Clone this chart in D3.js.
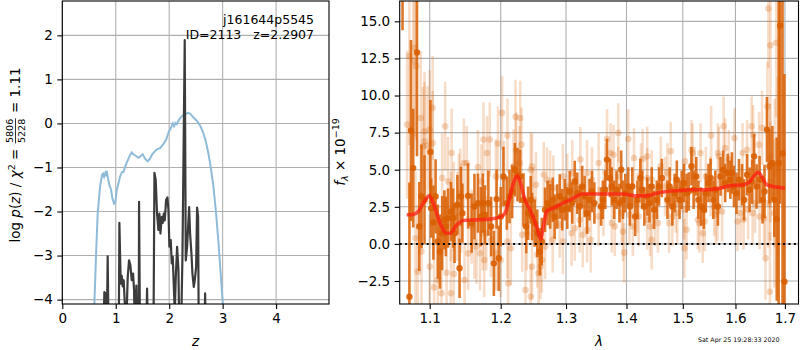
<!DOCTYPE html>
<html>
<head>
<meta charset="utf-8">
<script src="https://cdn.jsdelivr.net/npm/d3@7"></script>
<style>
  body { margin: 0; background: #fff; }
  text { font-family: "DejaVu Sans", sans-serif; fill: #000; }
</style>
</head>
<body>
<svg width="800" height="350"></svg>
<script>
// ---------- p(z) panel ----------
var zTicks = [0, 1, 2, 3, 4];
var logpTicks = [-4, -3, -2, -1, 0, 1, 2];

// chi2-based curve (light blue) [z, log p]
var chi2Curve = [[0.58,-5],[0.60,-4.1],[0.631,-3.0],[0.662,-2.04],[0.706,-1.44],[0.743,-1.17],[0.762,-1.14],[0.781,-1.21],[0.80,-1.14],[0.812,-1.2],[0.831,-1.08],[0.856,-1.25],[0.881,-1.40],[0.912,-1.50],[0.937,-1.70],[0.968,-1.82],[0.993,-1.78],[1.018,-1.52],[1.049,-1.37],[1.08,-1.21],[1.118,-1.10],[1.143,-1.10],[1.18,-0.97],[1.224,-0.84],[1.268,-0.72],[1.299,-0.66],[1.33,-0.70],[1.38,-0.74],[1.424,-0.78],[1.468,-0.74],[1.505,-0.70],[1.549,-0.80],[1.593,-0.86],[1.630,-0.82],[1.674,-0.72],[1.717,-0.65],[1.767,-0.59],[1.829,-0.56],[1.892,-0.47],[1.942,-0.37],[1.992,-0.19],[2.029,-0.11],[2.067,0.0],[2.092,-0.06],[2.117,0.01],[2.142,-0.02],[2.18,0.075],[2.223,0.15],[2.266,0.19],[2.316,0.22],[2.36,0.24],[2.404,0.21],[2.441,0.15],[2.485,0.10],[2.529,0.04],[2.579,-0.05],[2.63,-0.19],[2.68,-0.38],[2.728,-0.65],[2.778,-0.99],[2.828,-1.44],[2.878,-2.05],[2.928,-2.80],[2.972,-3.56],[3.003,-4.1],[3.02,-5]];

// fitted p(z) (dark) [z, log p]
var pzCurve = [[0.765,-5],[0.787,-3.83],[0.806,-4.05],[0.818,-3.85],[0.83,-5],[0.849,-3.02],[0.868,-5],[1.056,-5],[1.068,-2.26],[1.093,-3.64],[1.112,-3.46],[1.13,-3.7],[1.149,-3.56],[1.168,-4.05],[1.187,-5],[1.224,-3.49],[1.249,-3.11],[1.274,-3.22],[1.299,-3.56],[1.324,-3.41],[1.343,-3.79],[1.361,-5],[1.386,-3.68],[1.405,-5],[1.43,-5],[1.436,-1.78],[1.455,-5],[1.567,-5],[1.586,-3.75],[1.605,-5],[1.705,-5],[1.724,-1.12],[1.748,-1.29],[1.773,-2.05],[1.798,-2.42],[1.817,-2.05],[1.836,-2.5],[1.861,-2.12],[1.879,-2.26],[1.898,-2.05],[1.917,-2.2],[1.942,-1.74],[1.967,-1.68],[1.986,-1.97],[2.004,-2.8],[2.029,-2.65],[2.048,-3.18],[2.067,-3.03],[2.085,-3.64],[2.104,-4.3],[2.123,-3.5],[2.148,-2.8],[2.173,-3.33],[2.192,-5],[2.217,-5],[2.248,-3.03],[2.2907,1.89],[2.31,-3.11],[2.335,-2.8],[2.354,-2.35],[2.373,-1.9],[2.391,-2.5],[2.416,-2.95],[2.435,-3.41],[2.46,-3.71],[2.479,-3.56],[2.504,-3.26],[2.522,-1.91],[2.541,-2.12],[2.554,-5],[2.66,-5],[2.672,-3.86],[2.685,-5]];

// ---------- spectrum panel ----------
var waveTicks = [1.1, 1.2, 1.3, 1.4, 1.5, 1.6, 1.7];
var fluxTicks = [-2.5, 0, 2.5, 5, 7.5, 10, 12.5, 15];

// individual spectrum pixels [wave, flux, err]
var specPoints = [
 [1.070,8.04,5],[1.073,12.66,6],[1.078,12.32,6],[1.080,13.22,6],[1.082,11.98,5],[1.088,8.49,4.5],[1.091,6.57,4],[1.093,6.91,4],[1.093,7.59,4],[1.097,6.62,4],[1.100,7.7,4],[1.104,9.17,3.5],[1.084,-1.87,4.5],[1.081,0.38,4.5],[1.089,-0.52,4],[1.100,-1.53,3.5],[1.104,6.8,3.5],[1.121,7.93,3],[1.117,4.44,3],[1.125,4.21,3],[1.130,6.13,3],[1.129,1.84,3],[1.133,2.52,3],[1.140,3.09,3],[1.142,3.42,3],[1.147,5.45,3],[1.116,-3.33,3],[1.129,-3.33,3],[1.123,-1.94,3],[1.133,-2.03,3],[1.106,-2.93,3.5],[1.111,-2.43,3.5],[1.143,2.41,3],[1.138,1.84,3],
 [1.151,5.45,2.5],[1.148,-2.43,2.5],[1.167,5.18,2.5],[1.172,4.21,2.5],[1.175,7.03,2.5],[1.180,6.13,2.5],[1.184,7.03,2.5],[1.196,6.76,2.5],[1.202,8.83,2.5],[1.210,7.3,2.5],[1.222,8.56,2.5],[1.229,8.49,2.5],[1.231,6.69,2.5],[1.223,6.35,2.5],[1.205,4.44,2.5],[1.193,4.55,2.5],[1.165,-0.18,2.5],[1.170,-0.63,2.5],[1.174,0.72,2.5],[1.179,0.72,2.5],[1.162,0.16,2.5],[1.158,1.17,2.5],[1.186,0.27,2.5],[1.193,-0.63,2.5],[1.200,-1.08,2.5],[1.210,0.16,2.5],[1.215,-0.29,2.5],[1.211,-2.66,2.5],[1.237,-3.11,2.5],[1.232,0.61,2.5],[1.239,0.72,2.5],[1.245,5.0,2.5],[1.219,5.23,2.5],[1.228,5.45,2.5],[1.176,-1.08,2.5],[1.153,-0.63,2.5],
 [1.247,5.23,2.2],[1.253,3.99,2.2],[1.265,4.66,2.2],[1.270,4.32,2.2],[1.275,4.1,2.2],[1.280,3.76,2.2],[1.295,4.55,2.2],[1.302,3.87,2.2],[1.310,4.78,2.2],[1.323,5.68,2.2],[1.334,4.78,2.2],[1.342,4.32,2.2],[1.279,0.27,2.2],[1.295,0.16,2.2],[1.290,1.28,2.2],[1.309,0.72,2.2],[1.314,1.06,2.2],[1.327,0.61,2.2],[1.334,0.95,2.2],[1.340,0.27,2.2],[1.262,-1.08,2.2],[1.257,-1.98,2.2],[1.260,-1.53,2.2],[1.255,-0.74,2.2],[1.247,-1.53,2.2],[1.245,-3.56,2.2],[1.267,-0.18,2.2],[1.249,2.97,2.2],[1.275,2.07,2.2],[1.322,1.62,2.2],
 [1.367,7.07,2],[1.386,7.48,2],[1.403,7.07,2],[1.373,6.13,2],[1.378,6.01,2],[1.413,5.79,2],[1.428,5.72,2],[1.436,5.9,2],[1.353,5.45,2],[1.364,4.78,2],[1.386,4.55,2],[1.425,4.78,2],[1.436,4.44,2],[1.444,4.32,2],[1.460,5.23,2],[1.353,1.84,2],[1.361,2.52,2],[1.375,1.4,2],[1.380,1.17,2],[1.394,0.83,2],[1.396,-0.59,2],[1.405,1.96,2],[1.411,1.17,2],[1.421,1.84,2],[1.436,1.62,2],[1.441,1.17,2],[1.444,0.27,2],[1.450,1.84,2],[1.455,1.4,2],[1.419,2.75,2],[1.392,2.07,2],
 [1.478,6.24,2],[1.504,5.56,2],[1.516,6.35,2],[1.518,6.13,2],[1.533,6.13,2],[1.553,7.3,2],[1.566,6.13,2],[1.568,5.9,2],[1.577,7.93,2],[1.580,6.46,2],[1.587,5.68,2],[1.472,4.78,2],[1.468,3.87,2],[1.487,2.75,2],[1.475,1.4,2],[1.481,1.84,2],[1.490,2.07,2],[1.502,2.3,2],[1.507,0.95,2],[1.503,-0.29,2],[1.528,1.62,2],[1.531,1.4,2],[1.537,0.72,2],[1.541,1.51,2],[1.559,2.52,2],[1.562,1.96,2],[1.565,2.18,2],[1.574,2.18,2],[1.543,4.55,2],[1.552,3.87,2],[1.522,4.55,2],
 [1.598,7.14,2],[1.614,6.13,2],[1.623,6.35,2],[1.632,7.93,2],[1.635,7.36,2],[1.647,6.69,2.2],[1.653,7.82,2.5],[1.664,9.28,3],[1.670,4.21,4],[1.679,4.78,5],[1.670,5.45,4],[1.685,5.23,6],[1.604,1.51,2],[1.610,2.07,2],[1.616,1.62,2],[1.625,2.3,2],[1.634,2.07,2],[1.639,2.75,2],[1.648,1.84,2.2],[1.657,1.74,2.5],[1.666,2.75,3],[1.669,5.9,3.5],[1.660,-0.97,2.8],[1.669,-3.22,4],[1.666,15.86,4],[1.670,13.38,4],[1.682,13.56,5],[1.678,2.07,5]
];

// binned spectrum [wave, flux, err]
var binPoints = [
 [1.064,20.0,5.6],[1.073,-3.56,7.7],[1.075,7.64,6.1],[1.078,5.11,4.0],[1.083,12.9,7.0],[1.086,1.17,3.0],[1.089,3.2,3.5],[1.093,2.97,3.0],[1.101,6.2,3.5],[1.102,2.41,2.0],[1.105,1.44,2.5],[1.108,3.2,2.5],[1.111,0.16,2.5],[1.114,-0.52,2.5],[1.117,0.72,2.5],[1.120,1.62,2.0],[1.122,1.17,2.0],[1.125,1.74,2.0],[1.129,2.18,2.0],[1.132,1.74,2.0],[1.134,0.72,2.0],[1.138,2.64,2.0],[1.141,-1.64,2.0],[1.143,3.2,2.0],[1.145,2.07,2.0],
 [1.153,3.24,2.2],[1.158,1.40,2.0],[1.162,2.52,2.2],[1.167,2.75,2.0],[1.171,1.84,2.0],[1.174,2.75,2.0],[1.177,1.96,2.0],[1.182,2.75,2.2],[1.186,1.17,2.0],[1.190,-1.31,2.2],[1.194,3.02,2.0],[1.197,-0.97,2.2],[1.200,1.84,2.0],[1.204,4.55,2.0],[1.209,2.75,1.8],[1.213,3.2,1.8],[1.217,3.53,1.8],[1.221,5.0,1.8],[1.225,4.66,1.8],[1.229,4.55,1.8],[1.234,2.97,1.8],[1.238,1.17,1.8],[1.241,2.07,1.8],[1.245,2.97,1.6],
 [1.247,1.84,1.6],[1.251,1.4,1.6],[1.255,0.72,1.6],[1.259,-0.52,1.6],[1.262,0.16,1.6],[1.267,2.3,1.5],[1.271,2.75,1.5],[1.275,2.52,1.5],[1.279,2.97,1.5],[1.282,1.84,1.5],[1.286,2.52,1.5],[1.290,3.2,1.5],[1.294,2.3,1.4],[1.298,2.97,1.4],[1.302,2.41,1.4],[1.306,3.53,1.4],[1.310,2.75,1.4],[1.314,4.21,1.4],[1.318,3.42,1.4],[1.322,2.52,1.4],[1.326,3.87,1.4],[1.330,3.2,1.4],[1.334,2.07,1.4],[1.338,2.97,1.4],[1.342,3.53,1.4],[1.346,2.75,1.4],
 [1.357,2.52,1.3],[1.360,2.97,1.3],[1.364,3.65,1.3],[1.367,5.68,1.4],[1.372,4.44,1.3],[1.375,3.87,1.3],[1.379,2.97,1.3],[1.383,3.65,1.3],[1.388,2.75,1.3],[1.391,5.0,1.3],[1.394,2.97,1.3],[1.398,3.42,1.3],[1.403,3.87,1.3],[1.406,2.52,1.3],[1.410,3.87,1.3],[1.415,1.84,1.3],[1.419,2.97,1.3],[1.424,4.44,1.3],[1.427,3.65,1.3],[1.431,2.52,1.3],[1.436,3.2,1.3],[1.440,2.75,1.3],[1.444,3.87,1.3],[1.448,2.3,1.3],[1.453,2.97,1.3],[1.457,3.87,1.3],[1.462,4.44,1.3],
 [1.472,2.97,1.3],[1.476,3.87,1.3],[1.481,2.52,1.3],[1.485,3.42,1.3],[1.489,4.32,1.3],[1.494,2.97,1.3],[1.498,3.65,1.3],[1.502,4.1,1.3],[1.507,3.42,1.3],[1.511,3.53,1.3],[1.516,5.23,1.3],[1.520,3.65,1.3],[1.525,4.55,1.3],[1.529,2.97,1.3],[1.534,2.52,1.3],[1.539,2.3,1.3],[1.543,3.42,1.3],[1.548,4.1,1.3],[1.552,4.44,1.3],[1.557,2.97,1.3],[1.561,3.65,1.3],[1.566,2.52,1.3],[1.571,4.55,1.3],[1.576,5.0,1.3],[1.580,4.1,1.3],[1.585,4.78,1.3],[1.590,4.32,1.3],
 [1.593,4.78,1.4],[1.597,3.87,1.4],[1.602,3.42,1.4],[1.607,4.32,1.4],[1.613,3.99,1.4],[1.617,2.97,1.4],[1.623,4.66,1.4],[1.628,3.65,1.5],[1.633,4.21,1.5],[1.637,5.9,1.5],[1.642,3.87,1.5],[1.648,4.32,1.6],[1.654,2.97,1.6],[1.658,3.53,1.8],[1.663,7.7,2.2],[1.668,5.23,2.5],[1.674,5.45,2.5],[1.678,2.97,2.5],[1.683,1.67,5.5],[1.687,5.45,11],[1.690,14.7,12],[1.695,6.1,14],[1.699,-2.55,14]
];

// best-fit model [wave, flux]
var modelLine = [[1.0694,1.96],[1.0760,1.96],[1.0847,2.18],[1.0914,2.75],[1.0995,3.24],[1.1049,2.75],[1.1140,1.40],[1.1232,0.72],[1.1277,0.72],[1.1370,1.28],[1.1462,1.58],[1.1652,1.62],[1.1843,1.67],[1.1989,1.80],[1.2063,2.07],[1.2137,3.2],[1.2197,4.21],[1.2246,4.59],[1.2287,4.21],[1.2362,2.97],[1.2438,2.30],[1.2541,1.17],[1.2602,0.32],[1.2643,1.17],[1.2695,2.18],[1.2798,2.41],[1.2904,2.64],[1.3010,2.86],[1.3090,3.02],[1.3171,3.2],[1.3252,3.36],[1.3387,3.36],[1.3664,3.36],[1.3945,3.36],[1.4175,3.24],[1.4350,3.24],[1.4527,3.42],[1.4706,3.53],[1.4948,3.60],[1.5132,3.65],[1.5445,3.65],[1.5699,3.76],[1.5892,3.92],[1.6023,3.96],[1.6153,3.99],[1.6286,4.21],[1.6386,4.66],[1.6453,4.82],[1.6521,4.55],[1.6623,3.99],[1.6758,3.87],[1.7000,3.76]];

var svg = d3.select("svg");
var tickFont = 13.5;

// ---------- scales ----------
var L = {left: 62.3, right: 329, top: 1, bottom: 304};
var R = {left: 399.7, right: 798.5, top: 1, bottom: 304};

var xz = d3.scaleLinear().domain([0, 4.99]).range([L.left, L.right]);
var ylp = d3.scaleLinear().domain([-4.1, 2.78]).range([L.bottom, L.top]);
var xw = d3.scaleLog().domain([1.0603, 1.7285]).range([R.left, R.right]);
var yf = d3.scaleLinear().domain([-4.05, 16.37]).range([R.bottom, R.top]);

var defs = svg.append("defs");
defs.append("clipPath").attr("id", "clipL").append("rect")
  .attr("x", L.left).attr("y", L.top).attr("width", L.right - L.left).attr("height", L.bottom - L.top);
defs.append("clipPath").attr("id", "clipR").append("rect")
  .attr("x", R.left).attr("y", R.top).attr("width", R.right - R.left).attr("height", R.bottom - R.top);

// ---------- grids ----------
function grid(box, xs, ys, xv, yv) {
  var g = svg.append("g").attr("stroke", "#b0b0b0").attr("stroke-width", 1.1);
  g.selectAll(".gx").data(xv).enter().append("line")
    .attr("x1", function(d) { return xs(d); }).attr("x2", function(d) { return xs(d); })
    .attr("y1", box.top).attr("y2", box.bottom);
  g.selectAll(".gy").data(yv).enter().append("line")
    .attr("y1", function(d) { return ys(d); }).attr("y2", function(d) { return ys(d); })
    .attr("x1", box.left).attr("x2", box.right);
}
grid(L, xz, ylp, zTicks, logpTicks);
grid(R, xw, yf, waveTicks, fluxTicks);

// ---------- left panel curves ----------
var gl = svg.append("g").attr("clip-path", "url(#clipL)");
var lineL = d3.line().x(function(d) { return xz(d[0]); }).y(function(d) { return ylp(d[1]); });

gl.append("path").datum(chi2Curve)
  .attr("d", lineL).attr("fill", "none")
  .attr("stroke", "#8fbbd9").attr("stroke-width", 2);

gl.append("path").datum(pzCurve)
  .attr("d", lineL).attr("fill", "none")
  .attr("stroke", "#3c3c3c").attr("stroke-width", 2.2).attr("stroke-linejoin", "round");

// ---------- right panel spectrum ----------
var gr = svg.append("g").attr("clip-path", "url(#clipR)");
var orange = "#d95f02";

// light individual pixels
gr.append("g").selectAll("line").data(specPoints).enter().append("line")
  .attr("x1", function(d) { return xw(d[0]); }).attr("x2", function(d) { return xw(d[0]); })
  .attr("y1", function(d) { return yf(d[1] - d[2]); }).attr("y2", function(d) { return yf(d[1] + d[2]); })
  .attr("stroke", orange).attr("stroke-opacity", 0.22).attr("stroke-width", 2.6);
gr.append("g").selectAll("circle").data(specPoints).enter().append("circle")
  .attr("cx", function(d) { return xw(d[0]); }).attr("cy", function(d) { return yf(d[1]); })
  .attr("r", 3.3).attr("fill", orange).attr("fill-opacity", 0.25);

// binned points
gr.append("g").selectAll("line").data(binPoints).enter().append("line")
  .attr("x1", function(d) { return xw(d[0]); }).attr("x2", function(d) { return xw(d[0]); })
  .attr("y1", function(d) { return yf(d[1] - d[2]); }).attr("y2", function(d) { return yf(d[1] + d[2]); })
  .attr("stroke", orange).attr("stroke-opacity", 0.85).attr("stroke-width", 2.6);
gr.append("g").selectAll("circle").data(binPoints).enter().append("circle")
  .attr("cx", function(d) { return xw(d[0]); }).attr("cy", function(d) { return yf(d[1]); })
  .attr("r", 3.2).attr("fill", orange).attr("fill-opacity", 0.9);

// model
var lineR = d3.line().curve(d3.curveMonotoneX)
  .x(function(d) { return xw(d[0]); }).y(function(d) { return yf(d[1]); });
gr.append("path").datum(modelLine)
  .attr("d", lineR).attr("fill", "none")
  .attr("stroke", "#ff1a10").attr("stroke-opacity", 0.72).attr("stroke-width", 3.6)
  .attr("stroke-linejoin", "round");

// zero line
gr.append("line")
  .attr("x1", R.left).attr("x2", R.right).attr("y1", yf(0)).attr("y2", yf(0))
  .attr("stroke", "#000").attr("stroke-width", 2).attr("stroke-dasharray", "2,3.4");

// ---------- axes ----------
function styleAxis(g) {
  g.select(".domain").remove();
  g.selectAll(".tick line").attr("stroke", "#000").attr("stroke-width", 1.1);
  g.selectAll(".tick text").style("font-family", "DejaVu Sans").style("font-size", tickFont + "px").attr("fill", "#000");
}

svg.append("g").attr("transform", "translate(0," + L.bottom + ")")
  .call(d3.axisBottom(xz).tickValues(zTicks).tickSize(5).tickPadding(4.5).tickFormat(d3.format("d")))
  .call(styleAxis);
svg.append("g").attr("transform", "translate(" + L.left + ",0)")
  .call(d3.axisLeft(ylp).tickValues(logpTicks).tickSize(5).tickPadding(4.5).tickFormat(d3.format("d")))
  .call(styleAxis);
svg.append("g").attr("transform", "translate(0," + R.bottom + ")")
  .call(d3.axisBottom(xw).tickValues(waveTicks).tickSize(5).tickPadding(4.5).tickFormat(d3.format(".1f")))
  .call(styleAxis);
svg.append("g").attr("transform", "translate(" + R.left + ",0)")
  .call(d3.axisLeft(yf).tickValues(fluxTicks).tickSize(5).tickPadding(4.5).tickFormat(d3.format(".1f")))
  .call(styleAxis);

// frames
[L, R].forEach(function(b) {
  svg.append("rect").attr("x", b.left).attr("y", b.top)
    .attr("width", b.right - b.left).attr("height", b.bottom - b.top)
    .attr("fill", "none").attr("stroke", "#000").attr("stroke-width", 1.1);
});

// ---------- labels ----------
svg.append("text").attr("x", (L.left + L.right) / 2).attr("y", 346)
  .attr("text-anchor", "middle").style("font-size", tickFont + "px").style("font-style", "italic").text("z");
svg.append("text").attr("x", (R.left + R.right) / 2).attr("y", 346)
  .attr("text-anchor", "middle").style("font-size", tickFont + "px").style("font-style", "italic").text("λ");

// object info
svg.append("text").attr("x", 314).attr("y", 24).attr("text-anchor", "end")
  .style("font-size", "12.5px").text("j161644p5545");
svg.append("text").attr("x", 314).attr("y", 39).attr("text-anchor", "end")
  .style("font-size", "12.5px").style("white-space", "pre").text("ID=2113   z=2.2907");

// timestamp
svg.append("text").attr("x", 698).attr("y", 342)
  .style("font-size", "6.3px").text("Sat Apr 25 19:28:33 2020");

// left y label: log p(z) / χ² = 5806/5228 = 1.11
(function() {
  var g = svg.append("g");
  var t = g.append("text").style("font-size", tickFont + "px").style("white-space", "pre");
  t.append("tspan").text("log ");
  t.append("tspan").style("font-style", "italic").text("p");
  t.append("tspan").text("(");
  t.append("tspan").style("font-style", "italic").text("z");
  t.append("tspan").text(") / ");
  t.append("tspan").style("font-style", "italic").text("χ");
  t.append("tspan").attr("dy", -5).style("font-size", "9.5px").text("2");
  t.append("tspan").attr("dy", 5).text(" = ");
  var w1 = t.node().getComputedTextLength();
  var fw = 25;
  var fx = w1 + fw / 2 + 1;
  g.append("text").attr("x", fx).attr("y", -7).attr("text-anchor", "middle").style("font-size", "9.5px").text("5806");
  g.append("text").attr("x", fx).attr("y", 5).attr("text-anchor", "middle").style("font-size", "9.5px").text("5228");
  g.append("line").attr("x1", w1 + 1).attr("x2", w1 + fw + 1).attr("y1", -4.5).attr("y2", -4.5)
    .attr("stroke", "#000").attr("stroke-width", 0.8);
  var t2 = g.append("text").attr("x", w1 + fw + 2).style("font-size", tickFont + "px").style("white-space", "pre").text(" = 1.11");
  var total = w1 + fw + 2 + t2.node().getComputedTextLength();
  g.attr("transform", "translate(20," + (155 + total / 2) + ") rotate(-90)");
})();

// right y label: f_λ × 10^-19
(function() {
  var g = svg.append("g");
  var t = g.append("text").style("font-size", tickFont + "px");
  t.append("tspan").style("font-style", "italic").text("f");
  t.append("tspan").attr("dy", 3).style("font-size", "9.5px").style("font-style", "italic").text("λ");
  t.append("tspan").attr("dy", -3).text(" × 10");
  t.append("tspan").attr("dy", -6).style("font-size", "9.5px").text("−19");
  var w = t.node().getComputedTextLength();
  g.attr("transform", "translate(345," + (152 + w / 2) + ") rotate(-90)");
})();
</script>
</body>
</html>
